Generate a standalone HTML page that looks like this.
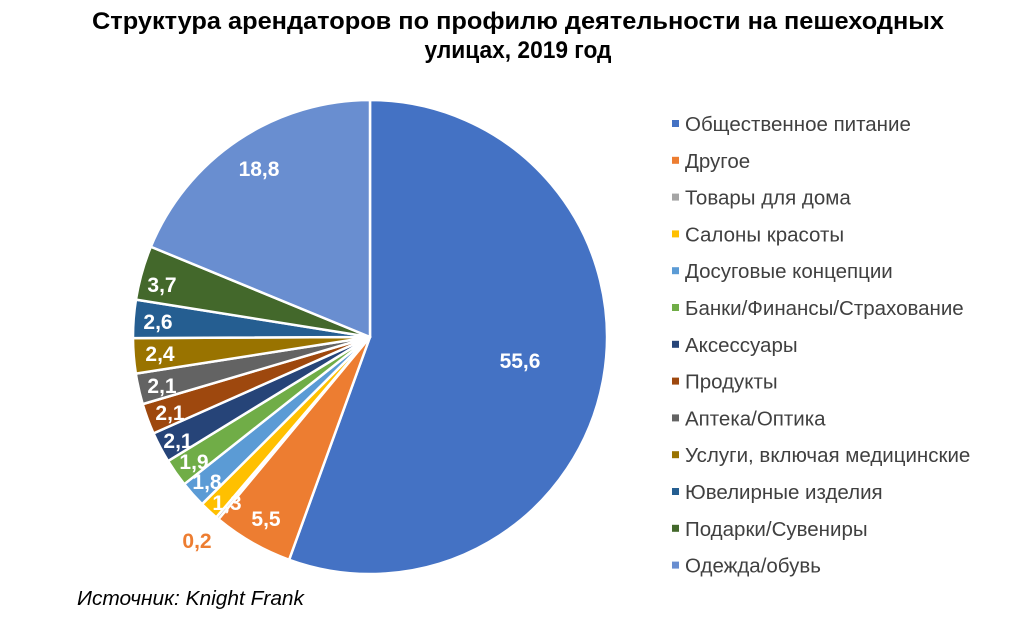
<!DOCTYPE html>
<html><head><meta charset="utf-8"><style>
body{margin:0;background:#fff;width:1024px;height:615px;overflow:hidden;font-family:"Liberation Sans",Arial,sans-serif}
</style></head><body>
<svg width="1024" height="615" xmlns="http://www.w3.org/2000/svg" font-family="Liberation Sans, Arial, sans-serif">
<text x="518" y="29" text-anchor="middle" font-size="24" font-weight="bold" fill="#000" textLength="852" lengthAdjust="spacingAndGlyphs">Структура арендаторов по профилю деятельности на пешеходных</text>
<text x="518" y="58" text-anchor="middle" font-size="24" font-weight="bold" fill="#000" textLength="187" lengthAdjust="spacingAndGlyphs">улицах, 2019 год</text>
<g id="pie"></g>
<g font-size="21" font-weight="bold" fill="#fff" text-anchor="middle">
<text x="520" y="368">55,6</text>
<text x="266" y="526">5,5</text>
<text x="197" y="548" fill="#ED7D31">0,2</text>
<text x="227" y="510">1,3</text>
<text x="207" y="489">1,8</text>
<text x="194" y="469">1,9</text>
<text x="178" y="448">2,1</text>
<text x="170" y="420">2,1</text>
<text x="162" y="393">2,1</text>
<text x="160" y="361">2,4</text>
<text x="158" y="329">2,6</text>
<text x="162" y="292">3,7</text>
<text x="259" y="176">18,8</text>
</g>
<g id="leg" font-size="20.5" fill="#404040"></g>
<text x="77" y="605" font-size="20" font-style="italic" fill="#000" textLength="227" lengthAdjust="spacingAndGlyphs">Источник: Knight Frank</text>
</svg>
<script>
var v=[55.6,5.5,0.2,1.3,1.8,1.9,2.1,2.1,2.1,2.4,2.6,3.7,18.8];
var c=["#4472C4","#ED7D31","#A5A5A5","#FFC000","#5B9BD5","#70AD47","#264478","#9E480E","#636363","#997300","#255E91","#43682B","#698ED0"];
var n=["Общественное питание","Другое","Товары для дома","Салоны красоты","Досуговые концепции","Банки/Финансы/Страхование","Аксессуары","Продукты","Аптека/Оптика","Услуги, включая медицинские","Ювелирные изделия","Подарки/Сувениры","Одежда/обувь"];
var tot=v.reduce((a,b)=>a+b,0),cx=370,cy=337,r=237,a=0,h="",l="";
function p(t){return [cx+r*Math.sin(t),cy-r*Math.cos(t)]}
v.forEach((x,i)=>{var b=a+x/tot*2*Math.PI,s=p(a),e=p(b);
h+='<path d="M'+cx+','+cy+'L'+s[0]+','+s[1]+'A'+r+','+r+' 0 '+(b-a>Math.PI?1:0)+' 1 '+e[0]+','+e[1]+'Z" fill="'+c[i]+'" stroke="#fff" stroke-width="2.5" stroke-linejoin="round"/>';a=b;
var y=125+i*36.8;l+='<rect x="672" y="'+(y-5)+'" width="7" height="7" fill="'+c[i]+'"/><text x="685" y="'+(y+6)+'">'+n[i]+'</text>';});
document.getElementById('pie').innerHTML=h;document.getElementById('leg').innerHTML=l;
</script>
</body></html>
